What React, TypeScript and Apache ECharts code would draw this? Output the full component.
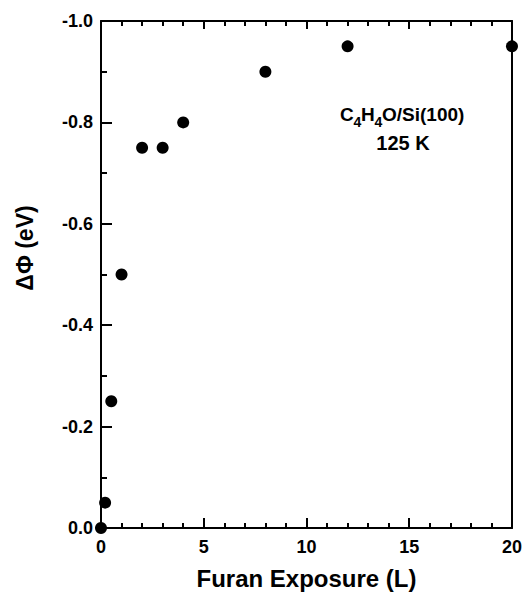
import React, { useEffect, useRef } from "react";
import * as echarts from "echarts";

const exposure = [0, 0.2, 0.5, 1, 2, 3, 4, 8, 12, 20];
const deltaPhi = [0, -0.05, -0.25, -0.5, -0.75, -0.75, -0.8, -0.9, -0.95, -0.95];
const xTickLabels = ["0", "5", "10", "15", "20"];
const yTickLabels = ["-1.0", "-0.8", "-0.6", "-0.4", "-0.2", "0.0"];

const FONT = "Liberation Sans";

export default function App() {
  const ref = useRef<HTMLDivElement>(null);
  useEffect(() => {
    if (!ref.current) return;
    const chart = echarts.init(ref.current, null, { renderer: "svg" });
    const data = exposure.map((x, i) => [x, deltaPhi[i]]);
    const axisLine = { show: true, onZero: false, lineStyle: { color: "#000", width: 2 } };
    const mainText = (text: string, x: number) => ({
      type: "text",
      x,
      y: 114.5,
      style: { text, fill: "#000", fontFamily: FONT, fontWeight: "bold", fontSize: 19, align: "left", verticalAlign: "middle" },
    });
    const subText = (text: string, x: number) => ({
      type: "text",
      x,
      y: 122,
      style: { text, fill: "#000", fontFamily: FONT, fontWeight: "bold", fontSize: 14, align: "left", verticalAlign: "middle" },
    });
    chart.setOption({
      animation: false,
      backgroundColor: "#fff",
      grid: { left: 101, right: 12, top: 21, bottom: 67, containLabel: false },
      xAxis: [
        {
          type: "value",
          min: 0,
          max: 20,
          interval: 5,
          position: "bottom",
          axisLine,
          axisTick: { show: true, inside: true, length: 10, lineStyle: { color: "#000", width: 2 } },
          minorTick: { show: true, splitNumber: 5, length: 5, lineStyle: { color: "#000", width: 2 } },
          splitLine: { show: false },
          minorSplitLine: { show: false },
          axisLabel: {
            margin: 10,
            color: "#000",
            fontFamily: FONT,
            fontWeight: "bold",
            fontSize: 18,
            formatter: (v: number) => {
              const idx = Math.round(v / 5);
              return xTickLabels[idx] ?? String(v);
            },
          },
          name: "Furan Exposure (L)",
          nameLocation: "middle",
          nameGap: 38,
          nameTextStyle: { color: "#000", fontFamily: FONT, fontWeight: "bold", fontSize: 24 },
        },
        {
          type: "value",
          min: 0,
          max: 20,
          interval: 5,
          position: "top",
          axisLine,
          axisTick: { show: true, inside: true, length: 8, lineStyle: { color: "#000", width: 2 } },
          minorTick: { show: true, splitNumber: 5, length: 5, lineStyle: { color: "#000", width: 2 } },
          splitLine: { show: false },
          minorSplitLine: { show: false },
          axisLabel: { show: false },
        },
      ],
      yAxis: [
        {
          type: "value",
          min: -1,
          max: 0,
          interval: 0.2,
          inverse: true,
          position: "left",
          axisLine,
          axisTick: { show: true, inside: true, length: 11, lineStyle: { color: "#000", width: 2 } },
          minorTick: { show: true, splitNumber: 2, length: 6, lineStyle: { color: "#000", width: 2 } },
          splitLine: { show: false },
          minorSplitLine: { show: false },
          axisLabel: {
            margin: 8,
            color: "#000",
            fontFamily: FONT,
            fontWeight: "bold",
            fontSize: 18,
            formatter: (v: number) => {
              const idx = Math.round((v + 1) / 0.2);
              return yTickLabels[idx] ?? v.toFixed(1);
            },
          },
        },
        {
          type: "value",
          min: -1,
          max: 0,
          inverse: true,
          position: "right",
          axisLine,
          axisTick: { show: false },
          splitLine: { show: false },
          axisLabel: { show: false },
        },
      ],
      graphic: [
        {
          type: "text",
          x: 25,
          y: 248,
          rotation: Math.PI / 2,
          style: {
            text: "ΔΦ (eV)",
            fill: "#000",
            fontFamily: FONT,
            fontWeight: "bold",
            fontSize: 23,
            align: "center",
            verticalAlign: "middle",
          },
        },
        mainText("C", 340),
        subText("4", 353.5),
        mainText("H", 361),
        subText("4", 374.5),
        mainText("O/Si(100)", 382),
        {
          type: "text",
          x: 403,
          y: 143,
          style: {
            text: "125 K",
            fill: "#000",
            fontFamily: FONT,
            fontWeight: "bold",
            fontSize: 20,
            align: "center",
            verticalAlign: "middle",
          },
        },
      ],
      series: [
        {
          type: "scatter",
          xAxisIndex: 0,
          yAxisIndex: 0,
          data,
          symbol: "circle",
          symbolSize: 12,
          clip: false,
          z: 10,
          itemStyle: { color: "#000", opacity: 1 },
        },
      ],
    });
    return () => chart.dispose();
  }, []);
  return (
    <div
      ref={ref}
      style={{ position: "fixed", left: 0, top: 0, width: 525, height: 595, background: "#fff" }}
    />
  );
}
